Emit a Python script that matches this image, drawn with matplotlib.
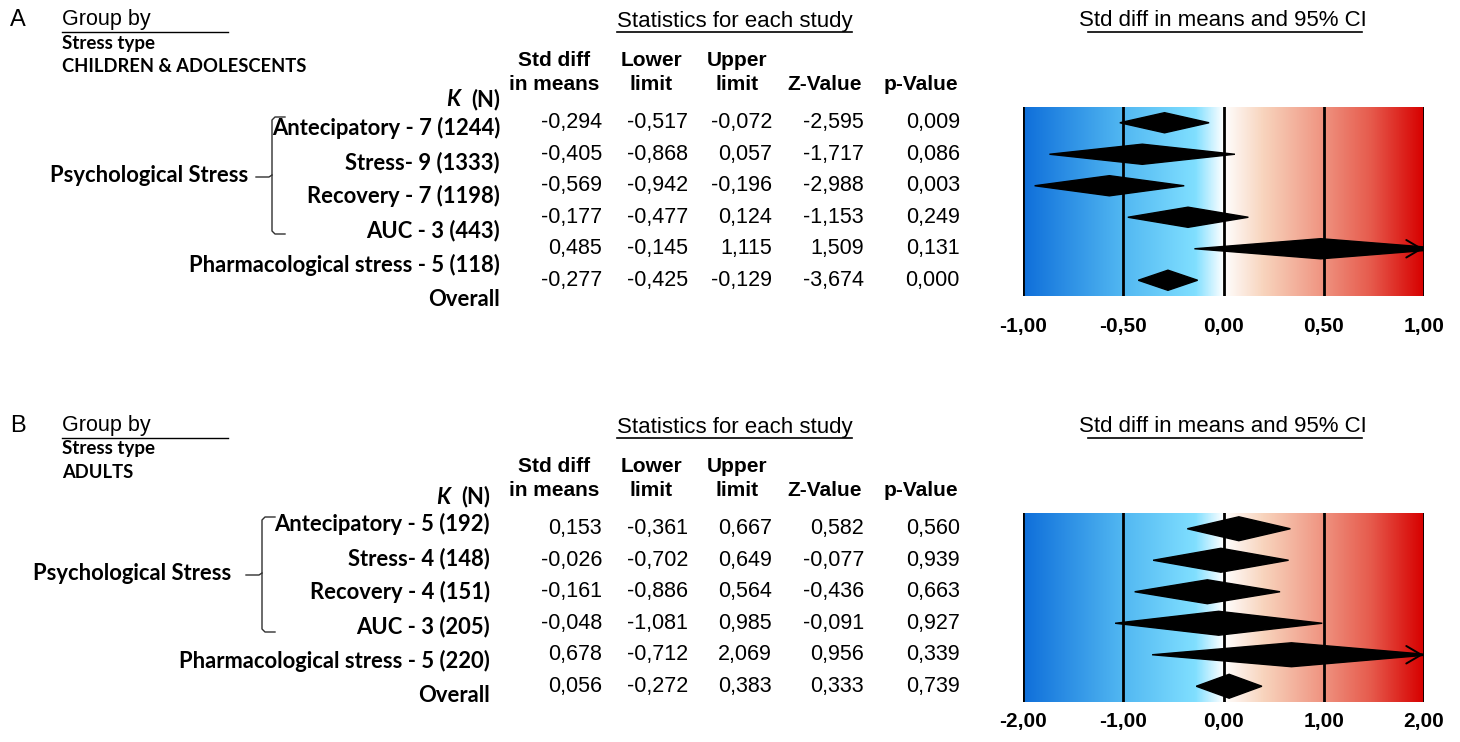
import matplotlib
matplotlib.use("Agg")
import matplotlib.pyplot as plt
from matplotlib.colors import LinearSegmentedColormap
from matplotlib.lines import Line2D
from matplotlib.patches import Polygon
import numpy as np

# panel A: children & adolescents
labels_a = ["Antecipatory - 7 (1244)", "Stress- 9 (1333)", "Recovery - 7 (1198)",
            "AUC - 3 (443)", "Pharmacological stress - 5 (118)", "Overall"]
est_a = [-0.294, -0.405, -0.569, -0.177, 0.485, -0.277]
lo_a = [-0.517, -0.868, -0.942, -0.477, -0.145, -0.425]
hi_a = [-0.072, 0.057, -0.196, 0.124, 1.115, -0.129]
z_a = [-2.595, -1.717, -2.988, -1.153, 1.509, -3.674]
p_a = [0.009, 0.086, 0.003, 0.249, 0.131, 0.000]
ticks_a = [-1.0, -0.5, 0.0, 0.5, 1.0]

# panel B: adults
labels_b = ["Antecipatory - 5 (192)", "Stress- 4 (148)", "Recovery - 4 (151)",
            "AUC - 3 (205)", "Pharmacological stress - 5 (220)", "Overall"]
est_b = [0.153, -0.026, -0.161, -0.048, 0.678, 0.056]
lo_b = [-0.361, -0.702, -0.886, -1.081, -0.712, -0.272]
hi_b = [0.667, 0.649, 0.564, 0.985, 2.069, 0.383]
z_b = [0.582, -0.077, -0.436, -0.091, 0.956, 0.333]
p_b = [0.560, 0.939, 0.663, 0.927, 0.339, 0.739]
ticks_b = [-2.0, -1.0, 0.0, 1.0, 2.0]

W, H = 1460, 742
fig = plt.figure(figsize=(W / 100, H / 100), dpi=100)

cmap = LinearSegmentedColormap.from_list("effect", [
    (0.0, "#0f6fda"), (0.25, "#52b8f2"), (0.43, "#80dfff"), (0.5, "#ffffff"),
    (0.6, "#f8d4bd"), (0.75, "#ef9380"), (0.87, "#e65a4c"), (1.0, "#d70000")])

ARIAL = "Liberation Sans"
CALIBRI = "Lato"


def fx(x):
    return x / W


def fy(y):
    return 1 - y / H


def txt(x, y, s, **kw):
    kw.setdefault("va", "center")
    fig.text(fx(x), fy(y), s, **kw)


def seg(xs, ys, lw=1.2, color="black"):
    fig.add_artist(Line2D([fx(v) for v in xs], [fy(v) for v in ys],
                          lw=lw, color=color, transform=fig.transFigure))


def num(v):
    return f"{v:.3f}".replace(".", ",")


def panel(top, letter, group, labels, est, lo, hi, z, p, ticks, lab_right, kn_y,
          lab_y0, psych_right, brk_x, brk_top, brk_bot, brk_mid, tick_pad, dh):
    # header block
    txt(10, top, letter, fontsize=17, family=ARIAL)
    txt(62, top, "Group by", fontsize=15.5, family=ARIAL)
    seg([62, 228], [top + 12, top + 12], lw=1)
    txt(62, top + 23, "Stress type", fontsize=13.5, family=CALIBRI, weight="bold")
    txt(62, top + 47, group, fontsize=13.2, family=CALIBRI, weight="bold")
    txt(735, top + 1, "Statistics for each study", fontsize=16, family=ARIAL, ha="center")
    seg([617, 852], [top + 12, top + 12], lw=1.2)
    txt(1223, top + 1, "Std diff in means and 95% CI", fontsize=16, family=ARIAL, ha="center")
    seg([1088, 1362], [top + 12, top + 12], lw=1.2)

    # column headings
    heads = [("Std diff\nin means", 554), ("Lower\nlimit", 651), ("Upper\nlimit", 737)]
    for s, cx in heads:
        l1, l2 = s.split("\n")
        txt(cx, top + 41, l1, fontsize=15, family=ARIAL, weight="bold", ha="center")
        txt(cx, top + 65, l2, fontsize=15, family=ARIAL, weight="bold", ha="center")
    txt(825, top + 65, "Z-Value", fontsize=15, family=ARIAL, weight="bold", ha="center")
    txt(921, top + 65, "p-Value", fontsize=15, family=ARIAL, weight="bold", ha="center")

    # row labels
    txt(lab_right - 40, kn_y, "K", fontsize=15.8, family=CALIBRI, weight="bold",
        style="italic", ha="right")
    txt(lab_right, kn_y, "(N)", fontsize=15.8, family=CALIBRI, weight="bold", ha="right")
    for i, s in enumerate(labels):
        txt(lab_right, lab_y0 + i * 34.2, s, fontsize=15.8, family=CALIBRI,
            weight="bold", ha="right")
    txt(psych_right, brk_mid - 2, "Psychological Stress", fontsize=15.8, family=CALIBRI,
        weight="bold", ha="right")
    c = "#303030"
    seg([brk_x + 13, brk_x + 3, brk_x, brk_x, brk_x + 3, brk_x + 13],
        [brk_top, brk_top, brk_top + 3, brk_bot - 3, brk_bot, brk_bot], lw=1, color=c)
    seg([brk_x - 16, brk_x - 3, brk_x], [brk_mid, brk_mid, brk_mid - 2], lw=1, color=c)

    # forest plot
    ax_top, ax_bot = top + 87, top + 276
    ax = fig.add_axes([fx(1023), fy(ax_bot), fx(1424) - fx(1023), (ax_bot - ax_top) / H])
    xmin, xmax = ticks[0], ticks[-1]
    n = len(est)
    ax.imshow(np.linspace(0, 1, 256)[None, :], cmap=cmap, aspect="auto",
              extent=[xmin, xmax, n - 0.5, -0.5], zorder=0)
    for t in ticks:
        ax.axvline(t, color="black", lw=2, zorder=1)
    for i in range(n):
        ax.add_patch(Polygon([[lo[i], i], [est[i], i - dh], [hi[i], i], [est[i], i + dh]],
                             closed=True, color="black", zorder=2))
        if hi[i] > xmax:
            ax.annotate("", xy=(xmax + 0.005 * (xmax - xmin), i),
                        xytext=(xmax - 0.06 * (xmax - xmin), i),
                        arrowprops=dict(arrowstyle="->,head_length=0.6,head_width=0.35",
                                        lw=1.4, color="black", mutation_scale=18),
                        zorder=3, annotation_clip=False)
    ax.set_xlim(xmin, xmax)
    ax.set_ylim(n - 0.5, -0.5)
    ax.set_yticks([])
    ax.set_xticks(ticks)
    ax.set_xticklabels([f"{t:.2f}".replace(".", ",") for t in ticks],
                       fontsize=15, weight="bold", family=ARIAL)
    ax.tick_params(axis="x", length=0, pad=tick_pad)
    for sp in ax.spines.values():
        sp.set_visible(False)

    # statistics table
    rows = [ax_top + (i + 0.5) * (ax_bot - ax_top) / n for i in range(n)]
    cols = [(est, 602), (lo, 688), (hi, 772), (z, 864), (p, 960)]
    for vals, xr in cols:
        for y, v in zip(rows, vals):
            txt(xr, y, num(v), fontsize=15.5, family=ARIAL, ha="right")


panel(20, "A", "CHILDREN & ADOLESCENTS", labels_a, est_a, lo_a, hi_a, z_a, p_a, ticks_a,
      500, 100, 128, 248, 272, 117, 234, 177, 15, 0.32)
panel(426, "B", "ADULTS", labels_b, est_b, lo_b, hi_b, z_b, p_b, ticks_b,
      490, 497, 524, 231, 262, 517, 632, 575, 7, 0.38)

fig.savefig("out.png", dpi=100, facecolor="white")
